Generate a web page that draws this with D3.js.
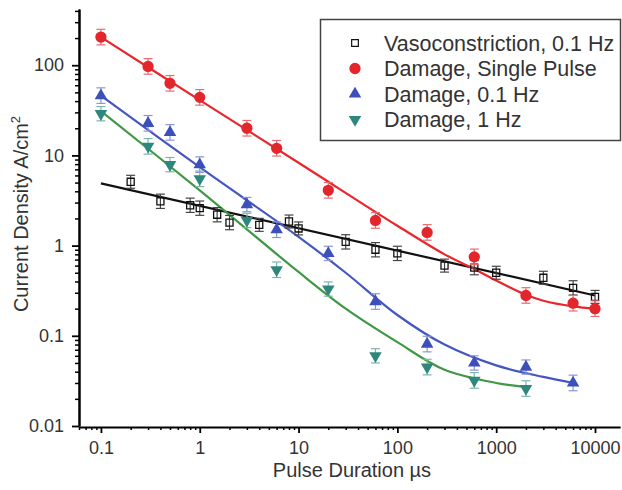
<!DOCTYPE html>
<html>
<head>
<meta charset="utf-8">
<script src="https://cdn.jsdelivr.net/npm/d3@7"></script>
<style>
  body { margin: 0; background: #fff; }
  svg { display: block; font-family: "Liberation Sans", Arial, sans-serif; }
  .axis path, .axis line { stroke: #000; }
  .axis text { fill: #333; font-size: 18px; }
</style>
</head>
<body>
<div id="chart"></div>
<script>
// measured points (pulse duration in µs, current density in A/cm2)
const vasoX = [0.2, 0.4, 0.8, 1, 1.5, 2, 4, 8, 10, 30, 60, 100, 300, 600, 1000, 3000, 6000, 10000];
const vasoY = [5.1, 3.1, 2.8, 2.6, 2.2, 1.8, 1.7, 1.85, 1.55, 1.1, 0.9, 0.82, 0.6, 0.57, 0.5, 0.44, 0.34, 0.27];
const vasoErr = [0.18, 0.2, 0.2, 0.2, 0.2, 0.2, 0.18, 0.18, 0.18, 0.2, 0.2, 0.2, 0.18, 0.2, 0.18, 0.18, 0.2, 0.18];

const singleX = [0.1, 0.3, 0.5, 1, 3, 6, 20, 60, 200, 600, 2000, 6000, 10000];
const singleY = [205, 97, 63, 44, 20, 12, 4.1, 1.9, 1.4, 0.75, 0.28, 0.23, 0.2];
const singleErr = [0.22, 0.22, 0.22, 0.22, 0.22, 0.22, 0.22, 0.22, 0.22, 0.22, 0.22, 0.22, 0.22];

const slowX = [0.1, 0.3, 0.5, 1, 3, 6, 20, 60, 200, 600, 2000, 6000];
const slowY = [46, 22.7, 18, 7.9, 2.85, 1.5, 0.82, 0.24, 0.081, 0.05, 0.045, 0.03];
const slowErr = [0.22, 0.22, 0.22, 0.22, 0.2, 0.22, 0.2, 0.22, 0.22, 0.2, 0.2, 0.22];

const fastX = [0.1, 0.3, 0.5, 1, 3, 6, 20, 60, 200, 600, 2000];
const fastY = [29, 12.6, 7.9, 5.5, 1.9, 0.54, 0.33, 0.06, 0.045, 0.032, 0.026];
const fastErr = [0.2, 0.22, 0.2, 0.22, 0.2, 0.22, 0.2, 0.2, 0.22, 0.22, 0.22];

// fitted curves
const vasoFitX = [0.1, 10000];
const vasoFitY = [4.9, 0.28];
const singleFitX = [0.1, 1, 10, 100, 300, 600, 1000, 2000, 3000, 6000, 10000];
const singleFitY = [205, 41, 8.3, 1.66, 0.8, 0.55, 0.41, 0.285, 0.245, 0.212, 0.2];
const slowFitX = [0.1, 1, 10, 30, 100, 300, 1000, 3000, 6000];
const slowFitY = [46, 7.4, 1.25, 0.5, 0.17, 0.08, 0.047, 0.035, 0.03];
const fastFitX = [0.1, 1, 10, 30, 100, 300, 1000, 2000];
const fastFitY = [31, 4.1, 0.51, 0.2, 0.085, 0.042, 0.03, 0.027];

const legendLabels = ["Vasoconstriction, 0.1 Hz", "Damage, Single Pulse", "Damage, 0.1 Hz", "Damage, 1 Hz"];
const xTicks = [0.1, 1, 10, 100, 1000, 10000];
const yTicks = [0.01, 0.1, 1, 10, 100];

const width = 622, height = 490;

const svg = d3.select("#chart").append("svg")
  .attr("width", width)
  .attr("height", height);

const x = d3.scaleLog().domain([0.06, 17900]).range([79, 620]);
const y = d3.scaleLog().domain([0.01, 420]).range([426, 9]);

// minor ticks 2..9 in each decade
function minors(scale) {
  const [a, b] = scale.domain();
  const out = [];
  for (let e = Math.floor(Math.log10(a)); e <= Math.ceil(Math.log10(b)); e++) {
    for (let m = 2; m <= 9; m++) {
      const v = m * Math.pow(10, e);
      if (v >= a && v <= b) out.push(v);
    }
  }
  return out;
}

const fmt = d => String(+d.toPrecision(3));

// x axis
svg.append("g").attr("class", "axis")
  .attr("transform", `translate(0,${y.range()[0] + 1})`)
  .call(d3.axisBottom(x).tickValues(minors(x)).tickSize(3).tickSizeOuter(0).tickFormat(""))
  .call(g => g.selectAll("line").attr("stroke-width", 1.5));
svg.append("g").attr("class", "axis")
  .attr("transform", `translate(0,${y.range()[0] + 1})`)
  .call(d3.axisBottom(x).tickValues(xTicks).tickSize(6).tickPadding(8).tickSizeOuter(0).tickFormat(fmt))
  .call(g => g.select(".domain").attr("stroke-width", 2))
  .call(g => g.selectAll("line").attr("stroke-width", 1.8));

// y axis
svg.append("g").attr("class", "axis")
  .attr("transform", `translate(${x.range()[0]},0)`)
  .call(d3.axisLeft(y).tickValues(minors(y)).tickSize(4).tickSizeOuter(0).tickFormat(""))
  .call(g => g.selectAll("line").attr("stroke-width", 1.5));
svg.append("g").attr("class", "axis")
  .attr("transform", `translate(${x.range()[0]},0)`)
  .call(d3.axisLeft(y).tickValues(yTicks).tickSize(7).tickPadding(8).tickSizeOuter(0).tickFormat(fmt))
  .call(g => g.select(".domain").attr("stroke-width", 2.5))
  .call(g => g.selectAll("line").attr("stroke-width", 1.8));

// axis titles
svg.append("text")
  .attr("x", 352).attr("y", 477)
  .attr("text-anchor", "middle")
  .attr("font-size", 20).attr("fill", "#333")
  .text("Pulse Duration µs");

const yTitle = svg.append("text")
  .attr("transform", "translate(28,214) rotate(-90)")
  .attr("text-anchor", "middle")
  .attr("font-size", 20).attr("fill", "#333");
yTitle.append("tspan").text("Current Density A/cm");
yTitle.append("tspan").attr("font-size", 13).attr("dy", -8).text("2");

// series
const series = [
  { xs: vasoX, ys: vasoY, err: vasoErr, fx: vasoFitX, fy: vasoFitY, line: "#111", fill: "none",
    stroke: "#111", errColor: "#444", symbol: d3.symbolSquare, size: 50, rot: 0 },
  { xs: singleX, ys: singleY, err: singleErr, fx: singleFitX, fy: singleFitY, line: "#e8262b", fill: "#e3262c",
    stroke: "none", errColor: "#ec6b70", symbol: d3.symbolCircle, size: 100, rot: 0 },
  { xs: slowX, ys: slowY, err: slowErr, fx: slowFitX, fy: slowFitY, line: "#4456c2", fill: "#3d4fbb",
    stroke: "none", errColor: "#8a96d6", symbol: d3.symbolTriangle, size: 68, rot: 0 },
  { xs: fastX, ys: fastY, err: fastErr, fx: fastFitX, fy: fastFitY, line: "#3f9944", fill: "#2e877c",
    stroke: "none", errColor: "#7eb5ae", symbol: d3.symbolTriangle, size: 68, rot: 180 }
];

const line = d3.line()
  .x(d => x(d[0]))
  .y(d => y(d[1]))
  .curve(d3.curveCatmullRom.alpha(0.5));

// fitted lines first, red drawn last among lines
[0, 3, 2, 1].forEach(i => {
  const s = series[i];
  svg.append("path")
    .datum(d3.zip(s.fx, s.fy))
    .attr("fill", "none")
    .attr("stroke", s.line)
    .attr("stroke-width", 2.2)
    .attr("d", line);
});

series.forEach(s => {
  const pts = s.xs.map((v, i) => ({ x: v, y: s.ys[i], e: s.err[i] }));
  const g = svg.append("g");
  const eb = g.selectAll(".eb").data(pts).enter().append("g")
    .attr("stroke", s.errColor).attr("stroke-width", 1.2);
  eb.append("line")
    .attr("x1", d => x(d.x)).attr("x2", d => x(d.x))
    .attr("y1", d => y(d.y * (1 + d.e))).attr("y2", d => y(d.y / (1 + d.e)));
  eb.append("line")
    .attr("x1", d => x(d.x) - 4.5).attr("x2", d => x(d.x) + 4.5)
    .attr("y1", d => y(d.y * (1 + d.e))).attr("y2", d => y(d.y * (1 + d.e)));
  eb.append("line")
    .attr("x1", d => x(d.x) - 4.5).attr("x2", d => x(d.x) + 4.5)
    .attr("y1", d => y(d.y / (1 + d.e))).attr("y2", d => y(d.y / (1 + d.e)));
  g.selectAll(".mk").data(pts).enter().append("path")
    .attr("d", d3.symbol().type(s.symbol).size(s.size))
    .attr("transform", d => `translate(${x(d.x)},${y(d.y)}) rotate(${s.rot})`)
    .attr("fill", s.fill === "none" ? "#fff" : s.fill)
    .attr("fill-opacity", s.fill === "none" ? 0 : 1)
    .attr("stroke", s.stroke)
    .attr("stroke-width", 1.3);
});

// legend
const lg = svg.append("g");
lg.append("rect")
  .attr("x", 320.5).attr("y", 19.5)
  .attr("width", 300).attr("height", 121)
  .attr("fill", "#fff").attr("stroke", "#444").attr("stroke-width", 1.5);
legendLabels.forEach((lab, i) => {
  const s = series[i];
  const cy = 43 + i * 25.5;
  lg.append("path")
    .attr("d", d3.symbol().type(s.symbol).size(s.symbol === d3.symbolSquare ? 45 : s.size))
    .attr("transform", `translate(355,${cy}) rotate(${s.rot})`)
    .attr("fill", s.fill === "none" ? "none" : s.fill)
    .attr("stroke", s.stroke)
    .attr("stroke-width", 1.2);
  lg.append("text")
    .attr("x", 384).attr("y", cy)
    .attr("dy", "0.35em")
    .attr("font-size", 21.5).attr("fill", "#333")
    .text(lab);
});
</script>
</body>
</html>
